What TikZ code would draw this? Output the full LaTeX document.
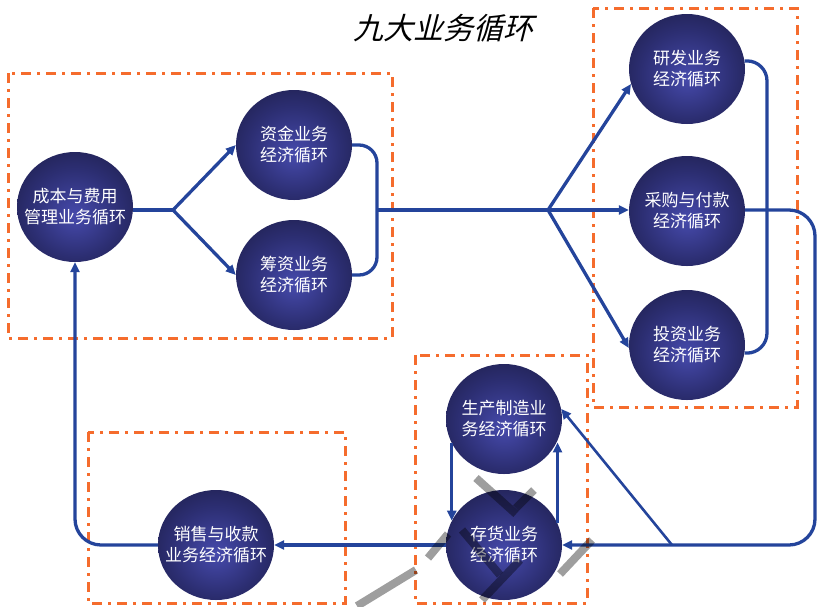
\documentclass[tikz,border=0pt]{standalone}
\usepackage{fontspec}
\newfontfamily\cjk{Noto Sans CJK SC}
\newfontfamily\cjktitle[FakeSlant=0.25]{Noto Sans CJK SC}
\usetikzlibrary{shapes.geometric,arrows.meta,calc}
\definecolor{flow}{RGB}{36,68,155}
\definecolor{frameor}{RGB}{245,108,45}
\definecolor{ballin}{RGB}{70,74,172}
\definecolor{ballmid}{RGB}{44,46,114}
\definecolor{ballout}{RGB}{24,24,58}
\pgfdeclareradialshading{ballshade}{\pgfpoint{0bp}{-4bp}}{color(0bp)=(ballin); color(20bp)=(ballmid); color(40bp)=(ballout); color(50bp)=(ballout)}
\tikzset{
  ball/.style={ellipse, shade, shading=ballshade, minimum width=116pt, minimum height=110pt, inner sep=0pt},
  lbl/.style={text=white, font=\cjk\fontsize{17}{21}\selectfont, align=center, inner sep=0pt},
  flowline/.style={draw=flow, line width=3.3pt},
  thinflow/.style={draw=flow, line width=2.6pt},
  tip/.style={-{Triangle[length=10pt,width=9pt]}},
  frame/.style={draw=frameor, line width=3pt, dash pattern=on 10pt off 6pt on 3pt off 6pt},
  wm/.style={draw=black!38, line width=8pt},
}
\begin{document}
\begin{tikzpicture}[x=1pt,y=-1pt]
\useasboundingbox (0,0) rectangle (817,606);

% frames
\draw[frame] (8,73) rectangle (392,338);
\draw[frame] (593,8) rectangle (797,407);
\draw[frame] (415,355) rectangle (587,603);
\draw[frame] (88,432) rectangle (345,603);

% title
\node[font=\cjktitle\fontsize{30}{30}\selectfont] (title) at (443,28) {九大业务循环};

% junction coordinates
\coordinate (J1) at (173,210);
\coordinate (B1) at (377,210);
\coordinate (J2) at (548,210);
\coordinate (R1) at (815,380);
\coordinate (D1) at (672,545);

% balls
\node[ball, label={[lbl]center:{成本与费用\\管理业务循环}}] (cost) at (75,207) {};
\node[ball, label={[lbl]center:{资金业务\\经济循环}}] (fund) at (294,145) {};
\node[ball, label={[lbl]center:{筹资业务\\经济循环}}] (chou) at (294,275) {};
\node[ball, label={[lbl]center:{研发业务\\经济循环}}] (yanfa) at (687,69) {};
\node[ball, label={[lbl]center:{采购与付款\\经济循环}}] (caigou) at (687,211) {};
\node[ball, label={[lbl]center:{投资业务\\经济循环}}] (touzi) at (687,345) {};
\node[ball, label={[lbl]center:{生产制造业\\务经济循环}}] (shengchan) at (504,419) {};
\node[ball, label={[lbl]center:{存货业务\\经济循环}}] (cunhuo) at (504,545) {};
\node[ball, label={[lbl]center:{销售与收款\\业务经济循环}}] (xiaoshou) at (216,545) {};

% connectors
\draw[flowline] (J1 -| cost.east) -- (J1);
\draw[flowline, tip] (J1) -- (fund.west);
\draw[flowline, tip] (J1) -- (chou.west);
\draw[flowline, rounded corners=18pt] (fund.east) -| (B1) |- (chou.east);
\draw[flowline] (B1) -- (J2);
\draw[flowline, tip] (J2) -- (yanfa.195);
\draw[flowline, tip] (J2) -- (J2 -| caigou.west);
\draw[flowline, tip] (J2) -- (touzi.183);
\draw[flowline, rounded corners=20pt] (yanfa.8) -| (767,210) |- (touzi.352);
\draw[flowline, tip, rounded corners=26pt] (J2 -| caigou.east) -| (R1) |- (cunhuo.east);
\draw[thinflow, tip] (D1) -- (shengchan.10);
\draw[thinflow, tip] (shengchan.205) -- (shengchan.205 |- cunhuo.155);
\draw[thinflow, tip] (cunhuo.22) -- (cunhuo.22 |- shengchan.336);
\draw[flowline, tip] (cunhuo.west) -- (xiaoshou.east);
\draw[flowline, tip, rounded corners=26pt] (xiaoshou.west) -| (cost.south);

% watermark strokes
\begin{scope}[blend mode=multiply]
\draw[wm] (476,478) -- (516,514);
\draw[wm] (534,490) -- (516,508);
\draw[wm] (428,558) -- (448,534);
\draw[wm] (357,606) -- (416,570);
\draw[wm] (560,574) -- (592,540);
\draw[wm] (462,530) -- (500,575);
\draw[wm] (482,600) -- (520,560);
\end{scope}
\end{tikzpicture}
\end{document}
